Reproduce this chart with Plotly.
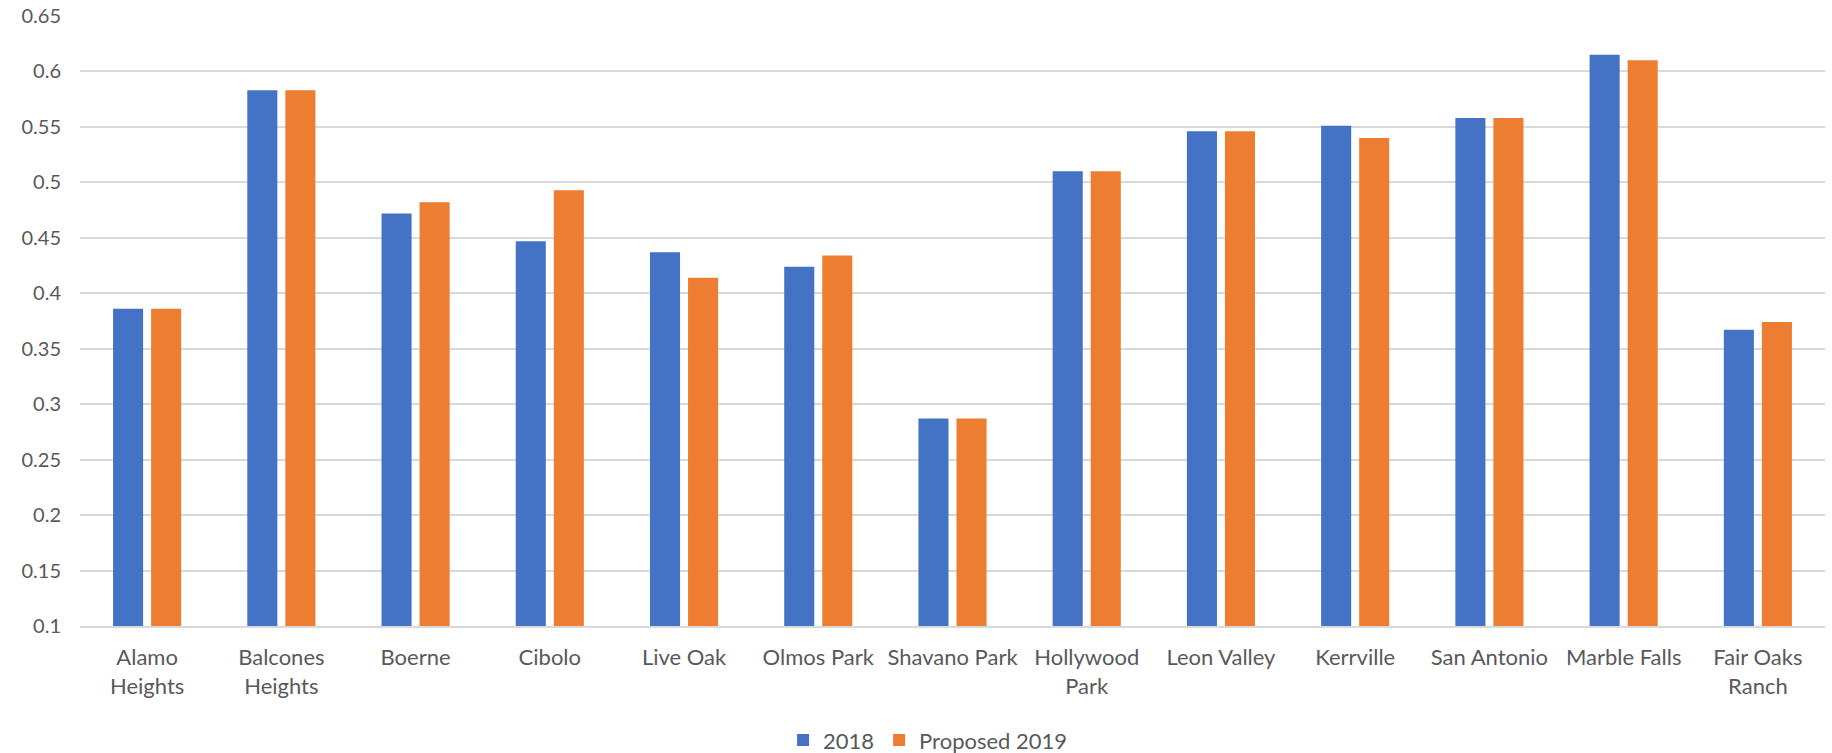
import plotly.graph_objects as go

categories = ["Alamo<br>Heights", "Balcones<br>Heights", "Boerne", "Cibolo", "Live Oak",
              "Olmos Park", "Shavano Park", "Hollywood<br>Park", "Leon Valley", "Kerrville",
              "San Antonio", "Marble Falls", "Fair Oaks<br>Ranch"]
values_2018 = [0.386, 0.583, 0.472, 0.447, 0.437, 0.424, 0.287, 0.510, 0.546, 0.551, 0.558, 0.615, 0.367]
values_2019 = [0.386, 0.583, 0.482, 0.493, 0.414, 0.434, 0.287, 0.510, 0.546, 0.540, 0.558, 0.610, 0.374]
tick_vals = [0.1, 0.15, 0.2, 0.25, 0.3, 0.35, 0.4, 0.45, 0.5, 0.55, 0.6, 0.65]
tick_text = ["0.1", "0.15", "0.2", "0.25", "0.3", "0.35", "0.4", "0.45", "0.5", "0.55", "0.6", "0.65"]

FONT = "Lato"
TXT = "#595959"

fig = go.Figure()
fig.add_trace(go.Bar(name="2018", x=categories, y=values_2018, marker_color="#4472C4",
                     marker_line_width=0))
fig.add_trace(go.Bar(name="Proposed 2019", x=categories, y=values_2019, marker_color="#ED7D31",
                     marker_line_width=0))

fig.update_layout(
    width=1832, height=753,
    margin=dict(l=80, r=7, t=16, b=127, autoexpand=False),
    paper_bgcolor="white", plot_bgcolor="white",
    barmode="group", bargap=0.433, bargroupgap=0.21,
    font=dict(family=FONT, size=21, color=TXT),
    legend=dict(orientation="h", x=0.486, xanchor="center", yref="container", y=0.017,
                yanchor="middle",
                font=dict(family=FONT, size=22, color=TXT), traceorder="normal"),
    showlegend=True,
)
fig.update_yaxes(range=[0.1, 0.65], tickvals=tick_vals, ticktext=tick_text,
                 showgrid=True, gridcolor="#D9D9D9", gridwidth=1.5, zeroline=False,
                 showline=False, ticks="", ticklabelstandoff=18,
                 tickfont=dict(family=FONT, size=20, color=TXT))
fig.update_xaxes(showline=True, linecolor="#D9D9D9", linewidth=1.5, ticks="",
                 tickfont=dict(family=FONT, size=22, color=TXT), ticklabelstandoff=11)

fig.write_html("out.html")
